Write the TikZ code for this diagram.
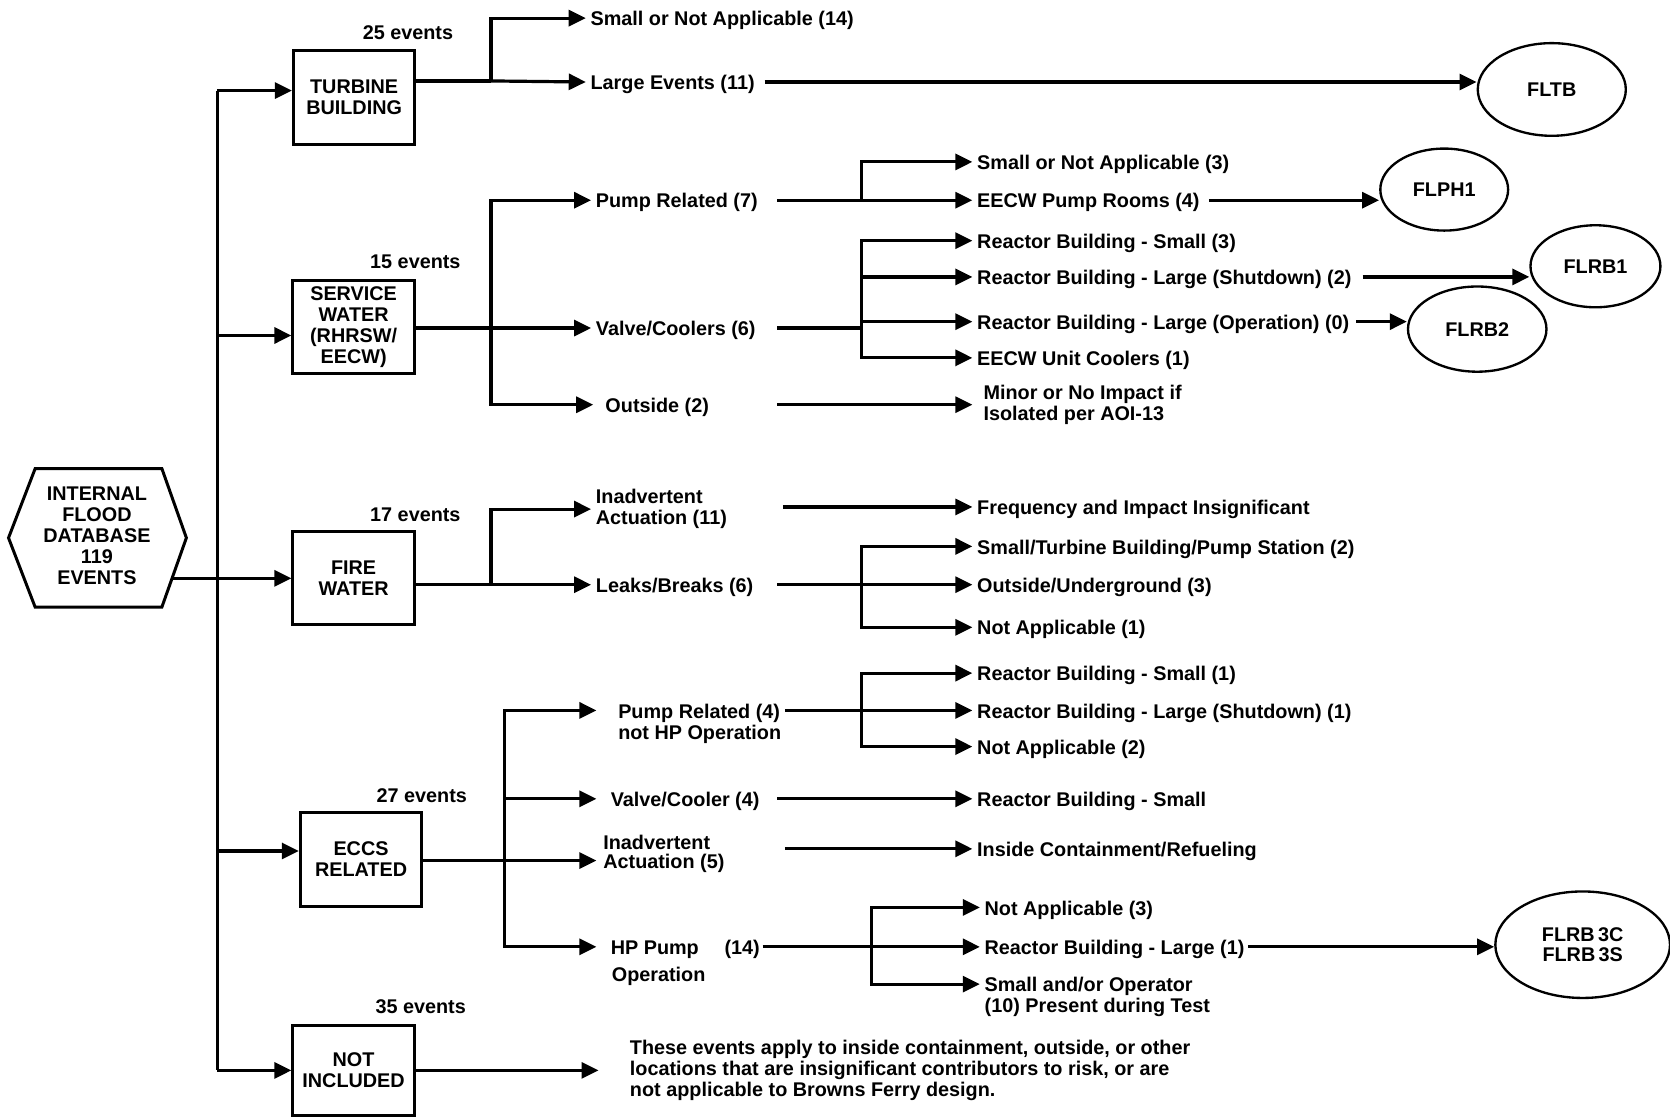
\documentclass[tikz,border=0pt]{standalone}
\usepackage{fontspec}
\setmainfont{Liberation Sans}
\usetikzlibrary{arrows.meta,shapes.geometric}
\begin{document}
\begin{tikzpicture}[x=0.5pt,y=-0.5pt, line width=1.5pt,
  every node/.style={font=\fontsize{9.3}{9.8}\selectfont\bfseries},
  arr/.style={-{Triangle[length=8pt,width=7.5pt]}},
  lbl/.style={anchor=west, inner xsep=1.5pt, inner ysep=0pt, text height=0.9em, text depth=0.18em},
  lbl2/.style={anchor=west, inner xsep=1.5pt, inner ysep=0pt, align=left},
  box/.style={draw, line width=1.4pt, align=center, inner sep=0pt, minimum width=57pt},
  oval/.style={draw, ellipse, line width=1.1pt, align=center, inner sep=0pt},
  evt/.style={inner sep=0pt}]
\useasboundingbox (0,0) rectangle (1568,1049);

% source hexagon
\draw[line width=1.4pt] (8,505) -- (33,440) -- (152,440) -- (175,505) -- (152,570) -- (33,570) -- cycle;
\node[align=center] (db) at (91,503) {INTERNAL\\FLOOD\\DATABASE\\119\\EVENTS};
\coordinate (dbout) at (161,543);

% category boxes
\node[box, minimum height=44.5pt] (tb) at (332.5,91.5) {TURBINE\\BUILDING};
\node[box, minimum height=43.25pt] (sw) at (332,307) {SERVICE\\WATER\\(RHRSW/\\EECW)};
\node[box, minimum height=43.5pt] (fw) at (332,542.5) {FIRE\\WATER};
\node[box, minimum height=44pt] (eccs) at (339,807) {ECCS\\RELATED};
\node[box, minimum height=42pt] (ni) at (332,1005) {NOT\\INCLUDED};

\node[evt] (e25) at (383,31) {25 events};
\node[evt] (e15) at (390,246) {15 events};
\node[evt] (e17) at (390,483) {17 events};
\node[evt] (e27) at (396,747) {27 events};
\node[evt] (e35) at (395,945) {35 events};

% trunk
\coordinate (t1) at (204,85);
\coordinate (t2) at (204,315);
\coordinate (t4) at (204,799);
\coordinate (t5) at (204,1005);
\draw (t1) -- (t5);
\draw[arr] (t1) -- (tb.west |- t1);
\draw[arr] (t2) -- (sw.west |- t2);
\draw[arr] (dbout) -- (fw.west |- dbout);
\draw[arr] (t4) -- (eccs.west |- t4);
\draw[arr] (t5) -- (ni.west |- t5);

% ellipses
\node[oval, minimum width=69.5pt, minimum height=43.5pt] (fltb) at (1457,84) {FLTB};
\node[oval, minimum width=60pt, minimum height=38.5pt] (flph1) at (1356,178) {FLPH1};
\node[oval, minimum width=61pt, minimum height=38.5pt] (flrb1) at (1498,250) {FLRB1};
\node[oval, minimum width=65pt, minimum height=40pt] (flrb2) at (1387,309) {FLRB2};
\node[oval, minimum width=82pt, minimum height=50pt] (flrb3) at (1486,887) {FLRB\,3C\\FLRB\,3S};

% ---- Turbine building
\coordinate (jTB) at (461,76);
\node[lbl] (tb1) at (550,17) {Small or Not Applicable (14)};
\node[lbl] (tb2) at (550,77) {Large Events (11)};
\draw (tb.east |- jTB) -- (jTB);
\draw[arr] (jTB) |- (tb1.west);
\draw[arr] (jTB) -- (tb2.west);
\draw[arr] (718,0 |- tb2.east) -- (tb2.east -| fltb.west);

% ---- Service water
\coordinate (jSW) at (461,308);
\node[lbl] (sw1) at (555,188) {Pump Related (7)};
\node[lbl] (sw2) at (555,308) {Valve/Coolers (6)};
\node[lbl, inner xsep=5pt] (sw3) at (557,380) {Outside (2)};
\draw[arr] (sw.east |- jSW) -- (sw2.west);
\draw[arr] (jSW) |- (sw1.west);
\draw[arr] (jSW) |- (sw3.west);

\coordinate (jPR) at (809,188);
\node[lbl] (pr1) at (913,152) {Small or Not Applicable (3)};
\node[lbl] (pr2) at (913,188) {EECW Pump Rooms (4)};
\draw[arr] (730,0 |- sw1.east) -- (pr2.west);
\draw[arr] (jPR) |- (pr1.west);
\draw[arr] (1135,0 |- pr2.east) -- (pr2.east -| flph1.west);

\coordinate (jVC) at (809,308);
\node[lbl] (vc1) at (913,226) {Reactor Building - Small (3)};
\node[lbl] (vc2) at (913,260) {Reactor Building - Large (Shutdown) (2)};
\node[lbl] (vc3) at (913,302) {Reactor Building - Large (Operation) (0)};
\node[lbl] (vc4) at (913,336) {EECW Unit Coolers (1)};
\draw (730,0 |- sw2.east) -- (jVC);
\draw[arr] (jVC) |- (vc1.west);
\draw[arr] (jVC) |- (vc2.west);
\draw[arr] (jVC) |- (vc3.west);
\draw[arr] (jVC) |- (vc4.west);
\draw[arr, shorten <=3pt] (vc2.east) -- (vc2.east -| flrb1.west);
\draw[arr, shorten <=1pt] (vc3.east) -- (vc3.east -| flrb2.west);

\node[lbl2, inner xsep=4.5pt] (mi) at (913,380) {Minor or No Impact if\\Isolated per AOI-13};
\draw[arr] (730,0 |- mi.west) -- (mi.west);

% ---- Fire water
\coordinate (jFW) at (461,549);
\node[lbl2] (fw1) at (555,478) {Inadvertent\\Actuation (11)};
\node[lbl] (fw2) at (555,549) {Leaks/Breaks (6)};
\draw[arr] (fw.east |- jFW) -- (fw2.west);
\draw[arr] (jFW) |- (fw1.west);

\node[lbl] (fi) at (913,476) {Frequency and Impact Insignificant};
\draw[arr] (735,0 |- fi.west) -- (fi.west);

\coordinate (jLB) at (809,549);
\node[lbl] (lb1) at (913,513) {Small/Turbine Building/Pump Station (2)};
\node[lbl] (lb2) at (913,549) {Outside/Underground (3)};
\node[lbl] (lb3) at (913,589) {Not Applicable (1)};
\draw[arr] (730,0 |- fw2.east) -- (lb2.west);
\draw[arr] (jLB) |- (lb1.west);
\draw[arr] (jLB) |- (lb3.west);

% ---- ECCS related
\coordinate (jEC) at (474,808);
\node[lbl, inner xsep=9.5pt] (ec1) at (560,667) {Pump Related (4)};
\node[lbl, inner xsep=9.5pt] (ec1b) at (560,687) {not HP Operation};
\node[lbl, inner xsep=6pt] (ec2) at (560,750) {Valve/Cooler (4)};
\node[lbl, inner xsep=2.5pt] (ec3a) at (560,790) {Inadvertent};
\node[lbl, inner xsep=2.5pt] (ec3) at (560,808) {Actuation (5)};
\node[lbl, inner xsep=6pt] (ec4) at (560,889) {HP Pump\hspace{1.3em}(14)};
\node[lbl, inner xsep=6.5pt] (ec4b) at (560,914) {Operation};
\draw[arr] (eccs.east |- jEC) -- (ec3.west);
\draw[arr] (jEC) |- (ec1.west);
\draw[arr] (jEC |- ec2.west) -- (ec2.west);
\draw[arr] (jEC) |- (ec4.west);

\coordinate (jP4) at (809,667);
\node[lbl] (p4a) at (913,632) {Reactor Building - Small (1)};
\node[lbl] (p4b) at (913,667) {Reactor Building - Large (Shutdown) (1)};
\node[lbl] (p4c) at (913,701) {Not Applicable (2)};
\draw[arr] ([xshift=-8pt]ec1.east) -- (p4b.west);
\draw[arr] (jP4) |- (p4a.west);
\draw[arr] (jP4) |- (p4c.west);

\node[lbl] (rbs) at (913,750) {Reactor Building - Small};
\draw[arr] (730,0 |- rbs.west) -- (rbs.west);

\node[lbl] (ic) at (913,797) {Inside Containment/Refueling};
\draw[arr] (737,0 |- ic.west) -- (ic.west);

\coordinate (jHP) at (818,889);
\node[lbl] (hp1) at (920,852) {Not Applicable (3)};
\node[lbl] (hp2) at (920,889) {Reactor Building - Large (1)};
\node[lbl] (hp3) at (920,924) {Small and/or Operator};
\node[lbl] (hp3b) at (920,943) {(10) Present during Test};
\draw[arr] (716,0 |- ec4.east) -- (hp2.west);
\draw[arr] (jHP) |- (hp1.west);
\draw[arr] (jHP) |- (hp3.west);
\draw[arr] (1172,0 |- hp2.east) -- (hp2.east -| flrb3.west);

% ---- Not included
\node[lbl2, inner xsep=14pt] (nit) at (562,1005) {These events apply to inside containment, outside, or other\\locations that are insignificant contributors to risk, or are\\not applicable to Browns Ferry design.};
\draw[arr] (ni.east |- t5) -- (nit.west);
\end{tikzpicture}
\end{document}
